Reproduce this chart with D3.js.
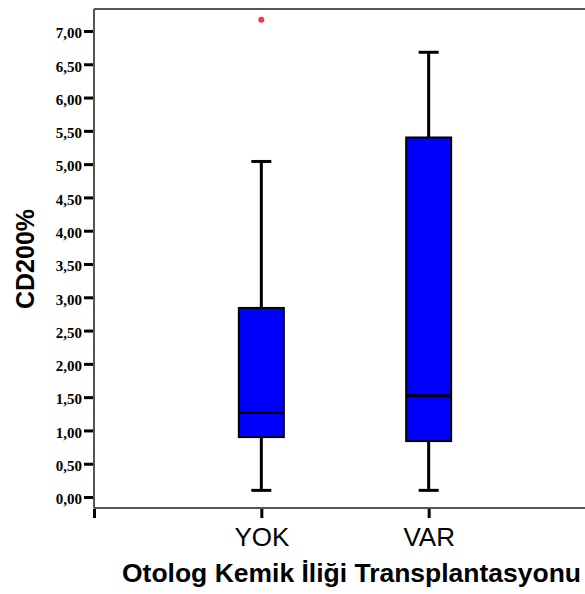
<!DOCTYPE html>
<html>
<head>
<meta charset="utf-8">
<script src="https://cdn.jsdelivr.net/npm/d3@7"></script>
<style>
  body { margin: 0; background: #fff; }
</style>
</head>
<body>
<div id="chart"></div>
<script>
// groups and box statistics
var groups = ["YOK", "VAR"];
var whiskerLow = [0.10, 0.10];
var q1 = [0.90, 0.84];
var median = [1.27, 1.52];
var q3 = [2.84, 5.40];
var whiskerHigh = [5.04, 6.68];
// outliers: [group, value]
var outliers = [["YOK", 7.17]];
var yTicks = [0, 0.5, 1, 1.5, 2, 2.5, 3, 3.5, 4, 4.5, 5, 5.5, 6, 6.5, 7];

var width = 585, height = 594;
var margin = {top: 9, right: -11, bottom: 86, left: 94};

var svg = d3.select("#chart").append("svg")
    .attr("width", width)
    .attr("height", height);

var y = d3.scaleLinear()
    .domain([-0.165, 7.33])
    .range([height - margin.bottom, margin.top]);

var x = d3.scalePoint()
    .domain(["", "YOK", "VAR", " "])
    .range([margin.left, width - margin.right]);

var boxes = groups.map(function(g, i) {
    return {g: g, lo: whiskerLow[i], q1: q1[i], med: median[i], q3: q3[i], hi: whiskerHigh[i]};
});

// top frame line
svg.append("line")
    .attr("x1", margin.left).attr("x2", width)
    .attr("y1", y.range()[1]).attr("y2", y.range()[1])
    .style("stroke", "#555").style("stroke-width", 2);

// y axis
var yAxis = svg.append("g")
    .attr("transform", "translate(" + margin.left + ",0)")
    .call(d3.axisLeft(y).tickValues(yTicks).tickSize(10).tickPadding(3)
        .tickFormat(function(d) { return d3.format(".2f")(d).replace(".", ","); }));
yAxis.select(".domain").style("stroke", "#555").style("stroke-width", 2)
    .attr("d", "M0," + y.range()[0] + "V" + y.range()[1]);
yAxis.selectAll(".tick line").style("stroke", "#000").style("stroke-width", 3)
    .attr("x2", -10).attr("x1", -1);
yAxis.selectAll(".tick text")
    .style("font-family", "'Liberation Serif', 'DejaVu Serif', serif")
    .style("font-weight", "bold")
    .style("font-size", "15px")
    .attr("dy", "0.45em")
    .attr("x", -12);

// x axis
var xAxis = svg.append("g")
    .attr("transform", "translate(0," + y.range()[0] + ")")
    .call(d3.axisBottom(x).tickValues(["", "YOK", "VAR"]).tickSize(10).tickPadding(10));
xAxis.select(".domain").style("stroke", "#555").style("stroke-width", 2)
    .attr("d", "M" + margin.left + ",0H" + width);
xAxis.selectAll(".tick line").style("stroke", "#000").style("stroke-width", 3)
    .attr("y1", 1);
xAxis.selectAll(".tick text")
    .style("font-family", "'Liberation Sans', Arial, sans-serif")
    .style("font-size", "26px")
    .attr("fill", "#000");

// whiskers, boxes, medians
var boxW = 45, capW = 20;
var bg = svg.append("g").selectAll("g").data(boxes).enter().append("g");

bg.append("line")
    .attr("x1", function(d) { return x(d.g); })
    .attr("x2", function(d) { return x(d.g); })
    .attr("y1", function(d) { return y(d.hi); })
    .attr("y2", function(d) { return y(d.lo); })
    .style("stroke", "#000").style("stroke-width", 3);

bg.selectAll(".cap")
    .data(function(d) { return [{g: d.g, v: d.hi}, {g: d.g, v: d.lo}]; })
    .enter().append("line")
    .attr("x1", function(d) { return x(d.g) - capW / 2; })
    .attr("x2", function(d) { return x(d.g) + capW / 2; })
    .attr("y1", function(d) { return y(d.v); })
    .attr("y2", function(d) { return y(d.v); })
    .style("stroke", "#000").style("stroke-width", 3);

bg.append("rect")
    .attr("x", function(d) { return x(d.g) - boxW / 2; })
    .attr("y", function(d) { return y(d.q3); })
    .attr("width", boxW)
    .attr("height", function(d) { return y(d.q1) - y(d.q3); })
    .style("fill", "#0000ff")
    .style("stroke", "#000")
    .style("stroke-width", 2);

bg.append("line")
    .attr("x1", function(d) { return x(d.g) - boxW / 2; })
    .attr("x2", function(d) { return x(d.g) + boxW / 2; })
    .attr("y1", function(d) { return y(d.med); })
    .attr("y2", function(d) { return y(d.med); })
    .style("stroke", "#000").style("stroke-width", 3);

// outliers
svg.selectAll(".outlier").data(outliers).enter().append("circle")
    .attr("cx", function(d) { return x(d[0]); })
    .attr("cy", function(d) { return y(d[1]); })
    .attr("r", 3)
    .style("fill", "#ff3344");

// axis titles
svg.append("text")
    .attr("transform", "translate(34,259) rotate(-90)")
    .attr("text-anchor", "middle")
    .attr("textLength", 100)
    .attr("lengthAdjust", "spacingAndGlyphs")
    .style("font-family", "'Liberation Sans', Arial, sans-serif")
    .style("font-weight", "bold")
    .style("font-size", "25px")
    .text("CD200%");

svg.append("text")
    .attr("x", 122)
    .attr("y", 582)
    .attr("textLength", 459)
    .attr("lengthAdjust", "spacingAndGlyphs")
    .style("font-family", "'Liberation Sans', Arial, sans-serif")
    .style("font-weight", "bold")
    .style("font-size", "25px")
    .text("Otolog Kemik İliği Transplantasyonu");
</script>
</body>
</html>
